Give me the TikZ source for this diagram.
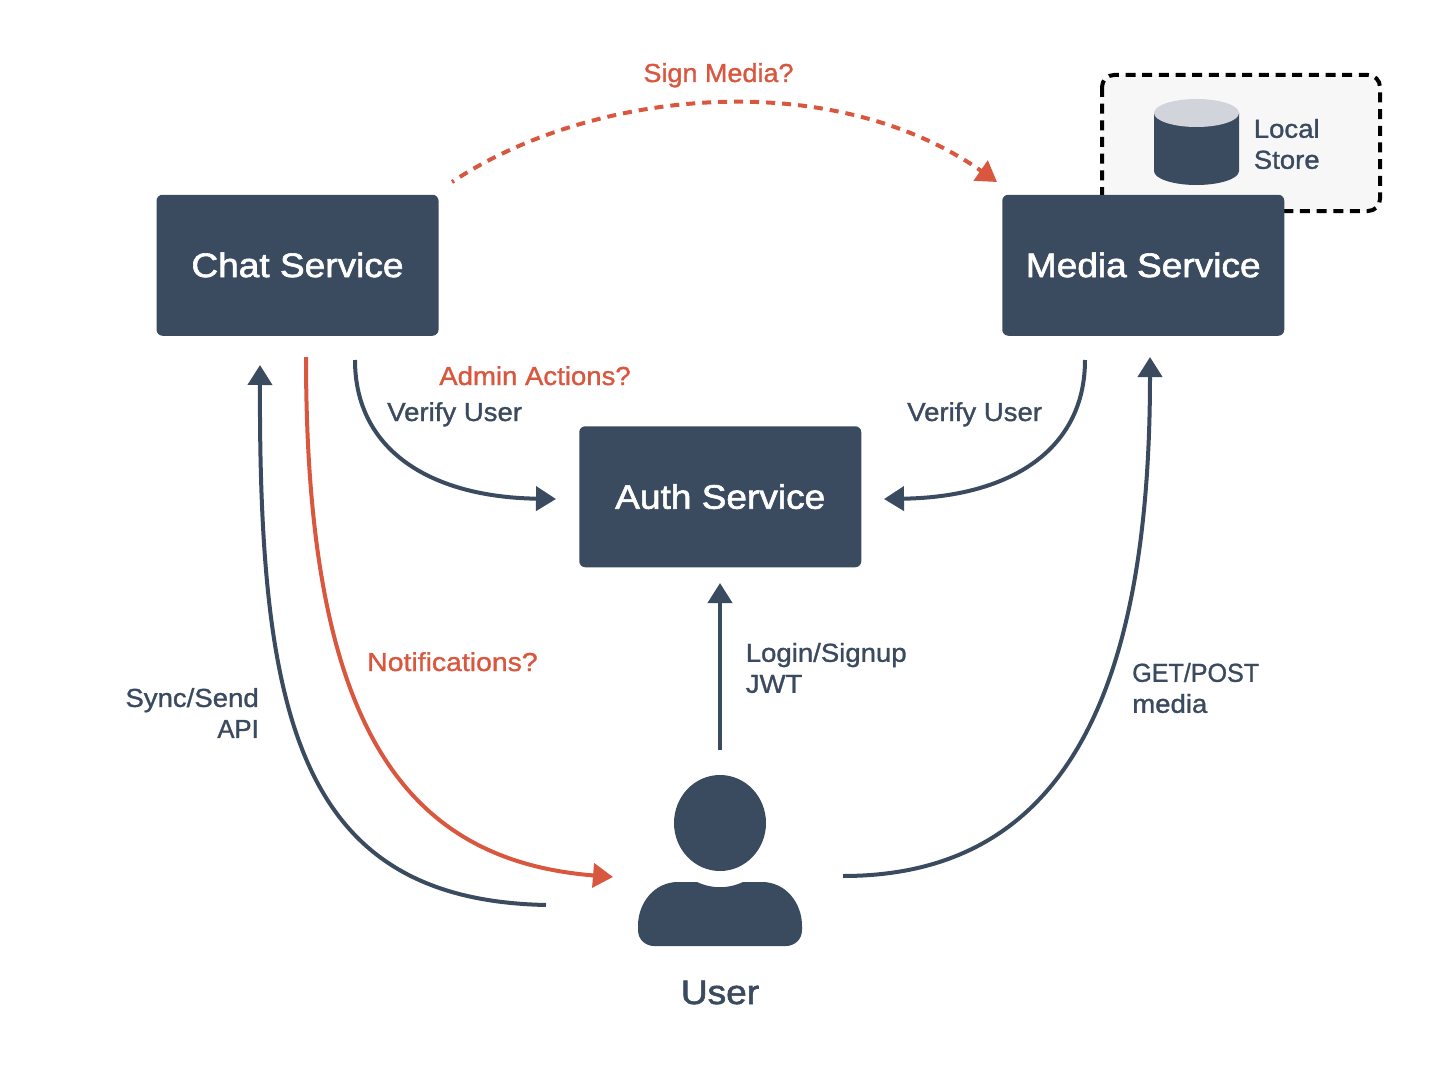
\documentclass[tikz,border=0pt]{standalone}
\usepackage{fontspec}
\usepackage{graphicx}
\setmainfont[FakeBold=1.2,FakeStretch=1.06]{Liberation Sans}
\newfontfamily\headfont[FakeBold=1.8,FakeStretch=1.09]{Liberation Sans}
\usetikzlibrary{arrows.meta}
\definecolor{navy}{HTML}{3A4A5F}
\definecolor{redc}{HTML}{D9573F}
\definecolor{lightg}{HTML}{D1D5DB}
\definecolor{panel}{HTML}{F7F7F7}
\tikzset{
  servicebox/.style={fill=navy,rounded corners=4.5pt,minimum width=211.5pt,minimum height=105.75pt,inner sep=0pt,text=white,font=\headfont\fontsize{25.5}{30}\selectfont},
  lbl/.style={text=navy,inner sep=0pt,font=\fontsize{19.5}{23.25}\selectfont},
  redlbl/.style={text=redc,inner sep=0pt,font=\fontsize{19.5}{23.25}\selectfont},
  conn/.style={draw=navy,line width=3pt,-{Triangle[length=15pt,width=18pt]}},
  redconn/.style={draw=redc,line width=3pt,-{Triangle[length=15pt,width=18pt]}}
}
\begin{document}
\begin{tikzpicture}[x=0.75pt,y=-0.75pt]
\useasboundingbox (0,0) rectangle (1440,1074);
% local store panel
\draw[fill=panel,draw=black,line width=3pt,dash pattern=on 7.5pt off 5pt,rounded corners=9pt] (1102,75) rectangle (1380,211);
\fill[navy] (1154,113) -- (1154,171) arc[start angle=180,end angle=0,x radius=42.5,y radius=14] -- (1239,113) -- cycle;
\fill[lightg] (1196.5,113) ellipse[x radius=42.5,y radius=14];
\node[lbl,anchor=west,align=left] (store) at (1253.5,144) {Local\\Store};
% services
\node[servicebox] (chat) at (297.5,265.25) {\raisebox{0.75pt}{Chat Service}};
\node[servicebox] (media) at (1143.25,265.25) {\raisebox{0.75pt}{Media Service}};
\node[servicebox] (auth) at (720.25,496.75) {\raisebox{0.5pt}{Auth Service}};
% user
\fill[navy] (720,823) ellipse[x radius=46,y radius=48];
\fill[navy] (697,882) .. controls (712,889) and (728,889) .. (743,882) -- (762,882) .. controls (785,882) and (802,902) .. (802,926) -- (802,930) .. controls (802,940) and (794,946) .. (786,946) -- (654,946) .. controls (646,946) and (638,940) .. (638,930) -- (638,926) .. controls (638,902) and (655,882) .. (678,882) -- cycle;
\node[text=navy,inner sep=0pt,font=\headfont\fontsize{25.5}{30}\selectfont,anchor=base] (user) at (720,1004) {User};
% connector ends
\coordinate (chatA) at (355,360);
\coordinate (authL) at (556,499);
\coordinate (mediaA) at (1085,360);
\coordinate (authR) at (884,499);
\coordinate (chatB) at (260,365);
\coordinate (userL) at (546,905);
\coordinate (chatC) at (306,357);
\coordinate (userN) at (613,877);
\coordinate (mediaB) at (1150,357);
\coordinate (userR) at (843,876);
\coordinate (authB) at (720,583);
\coordinate (userT) at (720,750);
\coordinate (signA) at (452,182);
\coordinate (signB) at (997,182);
% connectors
\draw[redconn,dash pattern=on 6.75pt off 5.25pt,dash phase=5pt] (signA) .. controls (590,90) and (830,65) .. (signB);
\draw[conn] (chatA) .. controls (355,450) and (430,497) .. (authL);
\draw[conn] (mediaA) .. controls (1085,450) and (1010,497) .. (authR);
\draw[conn] (userL) .. controls (300,900) and (259,720) .. (chatB);
\draw[redconn] (chatC) .. controls (306,720) and (400,860) .. (userN);
\draw[conn] (userR) .. controls (1060,876) and (1150,700) .. (mediaB);
\draw[conn] (userT) -- (authB);
% labels
\node[redlbl,anchor=base] (l1) at (718.5,82) {\scalebox{0.98}[1]{Sign Media?}};
\node[redlbl,anchor=base west] (l2) at (439,385) {Admin Actions?};
\node[lbl,anchor=base west] (l3) at (387,421) {Verify User};
\node[lbl,anchor=base west] (l4) at (907,421) {Verify User};
\node[redlbl,anchor=base west] (l5) at (367,671) {\scalebox{1.03}[1]{Notifications?}};
\node[lbl,anchor=west,align=left] (l6) at (745.5,668) {Login/Signup\\JWT};
\node[lbl,anchor=west,align=left] (l7) at (1132,688) {\scalebox{0.91}[1]{GET/POST}\\media};
\node[lbl,anchor=east,align=right] (l8) at (259,713) {Sync/Send\\\scalebox{0.93}[1]{API}};
\end{tikzpicture}
\end{document}
